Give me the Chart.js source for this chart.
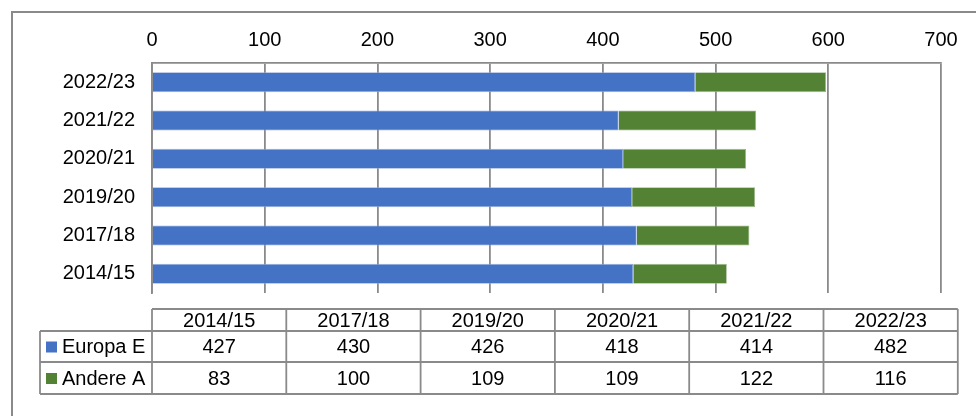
<!DOCTYPE html>
<html>
<head>
<meta charset="utf-8">
<script src="https://cdn.jsdelivr.net/npm/chart.js@4"></script>
<style>
html,body{margin:0;padding:0;background:#fff;}
#wrap{width:976px;height:416px;}
</style>
</head>
<body>
<div id="wrap"><canvas id="c" width="976" height="416"></canvas></div>
<script>
const categories = ['2014/15','2017/18','2019/20','2020/21','2021/22','2022/23'];
const europa = [427, 430, 426, 418, 414, 482];
const andere = [83, 100, 109, 109, 122, 116];
const seriesNames = ['Europa E', 'Andere A'];
const seriesColors = ['#4472C4', '#548235'];
const xTicks = [0,100,200,300,400,500,600,700];

const FONT = 'Liberation Sans, Arial, sans-serif';
const FS = 20;
const LINE = '#8a8a8a';

const frame = {
  id: 'frame',
  beforeDraw(chart) {
    const ctx = chart.ctx;
    ctx.save();
    ctx.fillStyle = '#fff';
    ctx.fillRect(0,0,chart.width,chart.height);
    ctx.strokeStyle = LINE;
    ctx.lineWidth = 2;
    ctx.strokeRect(12, 12, chart.width + 20, chart.height + 20);
    ctx.restore();
  }
};

const dataTable = {
  id: 'dataTable',
  afterDraw(chart) {
    const ctx = chart.ctx;
    const left = chart.chartArea.left;
    const n = categories.length;
    const colW = 134.3;
    const legendLeft = 40;
    const rowsY = [309, 331, 362, 394];
    const right = left + colW * n;
    ctx.save();
    ctx.strokeStyle = LINE;
    ctx.lineWidth = 1.8;
    ctx.beginPath();
    ctx.moveTo(left, rowsY[0]); ctx.lineTo(right, rowsY[0]);
    for (let r = 1; r < rowsY.length; r++) {
      ctx.moveTo(legendLeft, rowsY[r]); ctx.lineTo(right, rowsY[r]);
    }
    ctx.moveTo(legendLeft, rowsY[1]); ctx.lineTo(legendLeft, rowsY[3]);
    for (let i = 0; i <= n; i++) {
      const x = left + colW * i;
      ctx.moveTo(x, rowsY[0]); ctx.lineTo(x, rowsY[3]);
    }
    ctx.stroke();
    ctx.fillStyle = '#000';
    ctx.font = FS + 'px ' + FONT;
    ctx.textAlign = 'center';
    ctx.textBaseline = 'middle';
    const rowVals = [europa, andere];
    for (let i = 0; i < n; i++) {
      const cx = left + colW * (i + 0.5);
      ctx.fillText(categories[i], cx, (rowsY[0] + rowsY[1]) / 2 + 1);
      for (let r = 0; r < 2; r++) {
        ctx.fillText(String(rowVals[r][i]), cx, (rowsY[r+1] + rowsY[r+2]) / 2 + 1);
      }
    }
    ctx.textAlign = 'left';
    for (let r = 0; r < 2; r++) {
      const cy = (rowsY[r+1] + rowsY[r+2]) / 2;
      ctx.fillStyle = seriesColors[r];
      ctx.fillRect(46, cy - 5, 11, 11);
      ctx.fillStyle = '#000';
      ctx.fillText(seriesNames[r], 62, cy + 1);
    }
    ctx.restore();
  }
};

new Chart(document.getElementById('c'), {
  type: 'bar',
  data: {
    labels: categories,
    datasets: [
      { label: seriesNames[0], data: europa, backgroundColor: seriesColors[0], borderColor: '#8fa9dc', borderWidth: 0.8, barPercentage: 0.52, categoryPercentage: 1 },
      { label: seriesNames[1], data: andere, backgroundColor: seriesColors[1], borderColor: '#9bb58a', borderWidth: 0.8, barPercentage: 0.52, categoryPercentage: 1 }
    ]
  },
  options: {
    indexAxis: 'y',
    responsive: false,
    animation: false,
    devicePixelRatio: 1,
    layout: { padding: { left: 0, top: 0, right: 35, bottom: 123 } },
    plugins: { legend: { display: false }, tooltip: { enabled: false } },
    scales: {
      x: {
        position: 'top',
        stacked: true,
        min: 0, max: 700,
        afterBuildTicks(scale) { scale.ticks = xTicks.map(v => ({ value: v })); },
        afterFit(scale) { scale.height = 63; },
        ticks: { color: '#000', font: { family: FONT, size: FS }, padding: 11, maxRotation: 0 },
        grid: { color: LINE, lineWidth: 1.8, drawTicks: false },
        border: { display: true, color: LINE, width: 1.8 }
      },
      y: {
        stacked: true,
        reverse: true,
        afterFit(scale) { scale.width = 152; },
        ticks: { color: '#000', font: { family: FONT, size: FS }, padding: 17 },
        grid: { display: false, drawTicks: false },
        border: { display: true, color: LINE, width: 1.8 }
      }
    }
  },
  plugins: [frame, dataTable]
});
</script>
</body>
</html>
